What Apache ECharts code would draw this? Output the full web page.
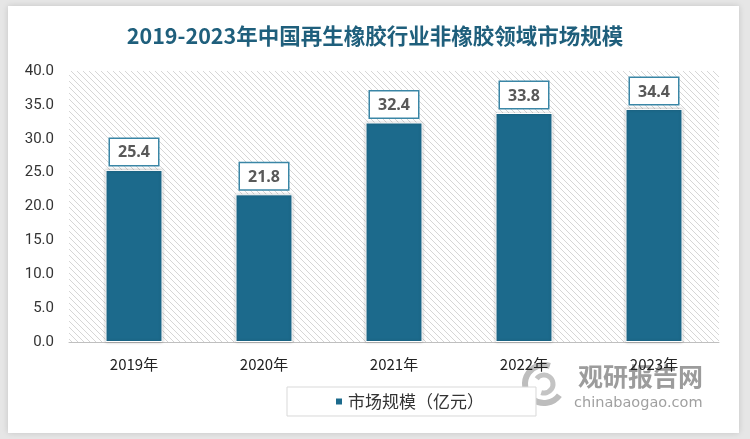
<!DOCTYPE html>
<html><head><meta charset="utf-8">
<script src="https://cdn.jsdelivr.net/npm/echarts@6/dist/echarts.min.js"></script>
<style>html,body{margin:0;padding:0;background:#e6e6e6;}#c{width:750px;height:439px;}</style>
</head><body><div id="c"></div>
<script>
const titleText = '2019-2023年中国再生橡胶行业非橡胶领域市场规模';
const categories = ['2019年','2020年','2021年','2022年','2023年'];
const seriesName = '市场规模（亿元）';
const values = [25.4, 21.8, 32.4, 33.8, 34.4];
const yTicks = {min: 0, max: 40, interval: 5};

const pc = document.createElement('canvas');
pc.width = 6; pc.height = 6;
const g = pc.getContext('2d');
g.fillStyle = '#ffffff'; g.fillRect(0,0,6,6);
g.strokeStyle = '#d6d6d6'; g.lineWidth = 1;
g.beginPath();
for (let k=-6;k<=12;k+=6){ g.moveTo(k,0); g.lineTo(k+6,6); }
g.stroke();

const chart = echarts.init(document.getElementById('c'));
chart.setOption({
  backgroundColor: '#e6e6e6',
  graphic: [
    {type:'rect', z:-10, shape:{x:8,y:6,width:731,height:427}, style:{fill:'#ffffff', shadowBlur:6, shadowColor:'rgba(0,0,0,0.15)'}},
    {type:'group', left: 522, top: 362, z: 5, children:[
      {type:'arc', shape:{cx:24,cy:22,r:19,startAngle:Math.PI*0.2,endAngle:Math.PI*1.6}, style:{fill:'none', stroke:'#bdbdbd', lineWidth:6}},
      {type:'arc', shape:{cx:24,cy:22,r:9,startAngle:Math.PI*1.2,endAngle:Math.PI*2.6}, style:{fill:'none', stroke:'#c4c4c4', lineWidth:5}},
      {type:'text', x: 58, y: 2, style:{text:'观研报告网', font:'bold 25px "Noto Sans CJK SC"', fill:'#9c9c9c'}},
      {type:'text', x: 54, y: 34, style:{text:'chinabaogao.com', font:'14.5px "DejaVu Sans"', fill:'#a0a0a0'}}
    ]}
  ],
  title: {
    text: titleText, left: 'center', top: 20,
    textStyle: {fontFamily: '"Noto Sans CJK SC"', fontWeight: 'bold', fontSize: 21.5, color: '#1f5f7c'}
  },
  grid: {left: 69, right: 31, top: 71, bottom: 97, show: true, borderWidth: 0,
    backgroundColor: {image: pc, repeat: 'repeat'}},
  legend: {
    data: [seriesName], left: 287, top: 387,
    padding: [6, 52, 6, 47],
    borderColor: '#d9d9d9', borderWidth: 1, backgroundColor: '#fff',
    itemWidth: 8, itemHeight: 8, itemGap: 6,
    icon: 'rect',
    textStyle: {fontFamily: '"Noto Sans CJK SC"', fontSize: 17, color: '#333'}
  },
  xAxis: {
    type: 'category', data: categories,
    axisLine: {lineStyle: {color: '#bfbfbf'}},
    axisTick: {show: false},
    axisLabel: {color: '#222', fontSize: 15, margin: 15, fontFamily: '"Noto Sans CJK SC"'}
  },
  yAxis: {
    type: 'value', min: yTicks.min, max: yTicks.max, interval: yTicks.interval,
    splitLine: {show: false},
    axisLine: {show: false}, axisTick: {show: false},
    axisLabel: {color: '#333', fontSize: 15, margin: 15, fontFamily: 'Roboto', formatter: v => v.toFixed(1)}
  },
  series: [{
    name: seriesName, type: 'bar', data: values, barWidth: 57,
    itemStyle: {color: '#1c6a8c', borderColor: '#ffffff', borderWidth: 1, shadowBlur: 3, shadowColor: 'rgba(0,0,0,0.25)'},
    label: {
      show: true, position: 'top', distance: 5,
      formatter: p => p.value.toFixed(1),
      backgroundColor: '#fff', borderColor: '#3a86a6', borderWidth: 1.5,
      padding: [6, 8, 4, 8],
      color: '#595959', fontWeight: 'bold', fontSize: 16, fontFamily: '"Open Sans"'
    }
  }]
});
</script></body></html>
